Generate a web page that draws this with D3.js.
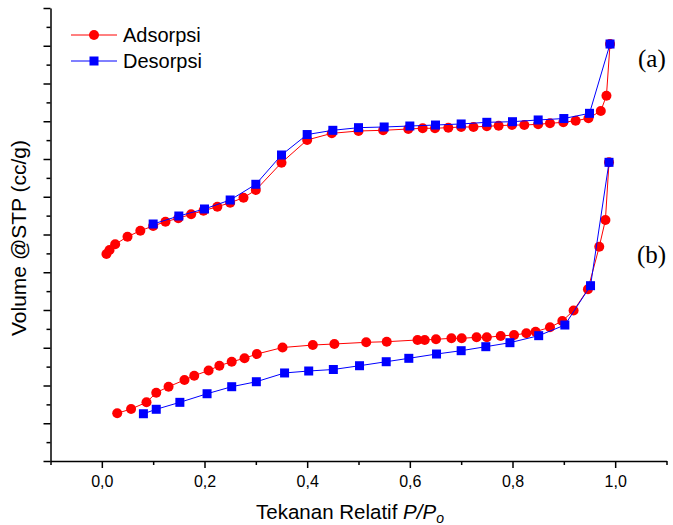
<!DOCTYPE html>
<html>
<head>
<meta charset="utf-8">
<script src="https://cdn.jsdelivr.net/npm/d3@7"></script>
<style>
  body { margin: 0; background: #fff; }
  svg { display: block; }
</style>
</head>
<body>
<script>
// data (volume in arbitrary units, axis has no numbers)
const adsA_x = [0.009, 0.015, 0.026, 0.05, 0.075, 0.10, 0.124, 0.149, 0.174, 0.198, 0.225, 0.25, 0.276, 0.30, 0.35, 0.40,
  0.448, 0.50, 0.548, 0.597, 0.625, 0.649, 0.675, 0.70, 0.724, 0.75, 0.773, 0.799, 0.823, 0.85, 0.873, 0.899, 0.923, 0.948, 0.972, 0.983, 0.99];
const adsA_y = [274.2, 279.5, 287.0, 297.1, 305.0, 311.3, 317.0, 321.5, 326.8, 331.5, 336.8, 342.1, 348.7, 358.9, 395.1, 425.2,
  434.0, 437.1, 438.0, 439.7, 440.7, 440.7, 441.5, 442.4, 442.4, 443.3, 444.1, 445.0, 445.0, 446.0, 447.3, 448.6, 450.7, 453.9, 463.6, 483.8, 552.3];

const desA_x = [0.99, 0.95, 0.90, 0.85, 0.80, 0.75, 0.70, 0.65, 0.60, 0.55, 0.50, 0.45, 0.40, 0.35, 0.30, 0.25, 0.20, 0.15, 0.10];
const desA_y = [552.3, 460.5, 453.6, 451.7, 449.4, 448.6, 446.4, 445.0, 443.7, 442.4, 441.5, 438.0, 432.4, 405.3, 366.5, 345.7, 333.8, 324.5, 313.9];

const adsB_x = [0.030, 0.057, 0.087, 0.106, 0.130, 0.161, 0.180, 0.208, 0.229, 0.253, 0.278, 0.302, 0.352, 0.411, 0.453, 0.515,
  0.555, 0.615, 0.629, 0.651, 0.681, 0.701, 0.730, 0.750, 0.777, 0.803, 0.827, 0.845, 0.873, 0.897, 0.919, 0.947, 0.969, 0.981, 0.988];
const adsB_y = [63.2, 68.9, 77.7, 90.5, 98.4, 107.3, 113.0, 119.9, 126.2, 131.5, 136.0, 141.7, 150.3, 153.6, 155.0, 157.2,
  158.0, 160.3, 160.3, 161.2, 162.5, 162.5, 163.8, 163.8, 165.6, 166.9, 169.1, 171.3, 177.1, 185.4, 199.3, 227.4, 283.8, 319.2, 395.6];

const desB_x = [0.988, 0.952, 0.902, 0.851, 0.795, 0.748, 0.70, 0.652, 0.598, 0.554, 0.502, 0.451, 0.403, 0.356, 0.301, 0.253, 0.205, 0.152, 0.106, 0.081];
const desB_y = [395.6, 232.2, 180.1, 166.0, 156.7, 151.4, 146.1, 141.7, 136.0, 131.5, 126.2, 121.2, 119.2, 116.6, 105.0, 98.4, 89.1, 77.7, 68.5, 62.6];

const xMajor = [0, 0.2, 0.4, 0.6, 0.8, 1.0];
const xMinor = [-0.1, 0.1, 0.3, 0.5, 0.7, 0.9, 1.1];
const yMajor = d3.range(0, 601, 50);
const yMinor = d3.range(25, 600, 50);
const legendNames = ["Adsorpsi", "Desorpsi"];

const W = 673, H = 525;
const svg = d3.select("body").append("svg").attr("width", W).attr("height", H);

const x = d3.scaleLinear().domain([-0.1, 1.1]).range([50.5, 666.5]);
const y = d3.scaleLinear().domain([0, 600]).range([461, 8]);

const red = "#ff0000", blue = "#0000ff";
const comma = v => d3.format(".1f")(v).replace(".", ",");

function zip(xs, ys) { return xs.map((v, i) => [v, ys[i]]); }

const line = d3.line().x(d => x(d[0])).y(d => y(d[1]));

function drawSeries(pts, color, shape) {
  svg.append("path").datum(pts)
    .attr("fill", "none").attr("stroke", color).attr("stroke-width", 1)
    .attr("d", line);
  if (shape === "circle") {
    svg.append("g").selectAll("circle").data(pts).join("circle")
      .attr("cx", d => x(d[0])).attr("cy", d => y(d[1])).attr("r", 5)
      .attr("fill", color);
  } else {
    svg.append("g").selectAll("rect").data(pts).join("rect")
      .attr("x", d => x(d[0]) - 4.5).attr("y", d => y(d[1]) - 4.5)
      .attr("width", 9).attr("height", 9).attr("fill", color);
  }
}

drawSeries(zip(adsA_x, adsA_y), red, "circle");
drawSeries(zip(desA_x, desA_y), blue, "rect");
drawSeries(zip(adsB_x, adsB_y), red, "circle");
drawSeries(zip(desB_x, desB_y), blue, "rect");

// axes
const font = "Arial, 'Liberation Sans', sans-serif";
const gx = svg.append("g").attr("transform", `translate(0,${y(0)})`);
gx.call(d3.axisBottom(x).tickValues(xMajor).tickSize(7).tickSizeOuter(0).tickFormat(comma));
gx.append("g").call(d3.axisBottom(x).tickValues(xMinor).tickSize(4).tickFormat(""))
  .select(".domain").remove();
gx.selectAll("path, line").attr("stroke", "#000").attr("stroke-width", 1.5);
gx.selectAll("text").attr("font-family", font).attr("font-size", 16).attr("fill", "#000").attr("dy", "1.0em");

const gy = svg.append("g").attr("transform", `translate(${x(-0.1)},0)`);
gy.call(d3.axisLeft(y).tickValues(yMajor).tickSize(7).tickSizeOuter(0).tickFormat(""));
gy.append("g").call(d3.axisLeft(y).tickValues(yMinor).tickSize(4).tickFormat(""))
  .select(".domain").remove();
gy.selectAll("path, line").attr("stroke", "#000").attr("stroke-width", 1.5);

// axis titles
const xt = svg.append("text").attr("x", 350).attr("y", 519).attr("text-anchor", "middle")
  .attr("font-family", font).attr("font-size", 20.5).attr("fill", "#000");
xt.append("tspan").text("Tekanan Relatif ");
xt.append("tspan").attr("font-style", "italic").text("P/P");
xt.append("tspan").attr("font-style", "italic").attr("font-size", 14).attr("dy", 4).text("o");

svg.append("text").attr("transform", "translate(26,238) rotate(-90)")
  .attr("text-anchor", "middle").attr("font-family", font).attr("font-size", 21)
  .attr("fill", "#000").text("Volume @STP (cc/g)");

// curve labels
const serif = "'Liberation Serif', 'Times New Roman', serif";
svg.append("text").attr("x", 638).attr("y", 67).attr("font-family", serif)
  .attr("font-size", 25).text("(a)");
svg.append("text").attr("x", 637).attr("y", 263).attr("font-family", serif)
  .attr("font-size", 25).text("(b)");

// legend
const leg = svg.append("g");
[[red, "circle"], [blue, "rect"]].forEach(([c, s], i) => {
  const ly = 35 + i * 26;
  leg.append("line").attr("x1", 71).attr("x2", 117).attr("y1", ly).attr("y2", ly)
    .attr("stroke", c).attr("stroke-width", 1);
  if (s === "circle") leg.append("circle").attr("cx", 94).attr("cy", ly).attr("r", 5).attr("fill", c);
  else leg.append("rect").attr("x", 89.5).attr("y", ly - 4.5).attr("width", 9).attr("height", 9).attr("fill", c);
  leg.append("text").attr("x", 123).attr("y", ly + 7).attr("font-family", font)
    .attr("font-size", 20).attr("fill", "#000").text(legendNames[i]);
});
</script>
</body>
</html>
